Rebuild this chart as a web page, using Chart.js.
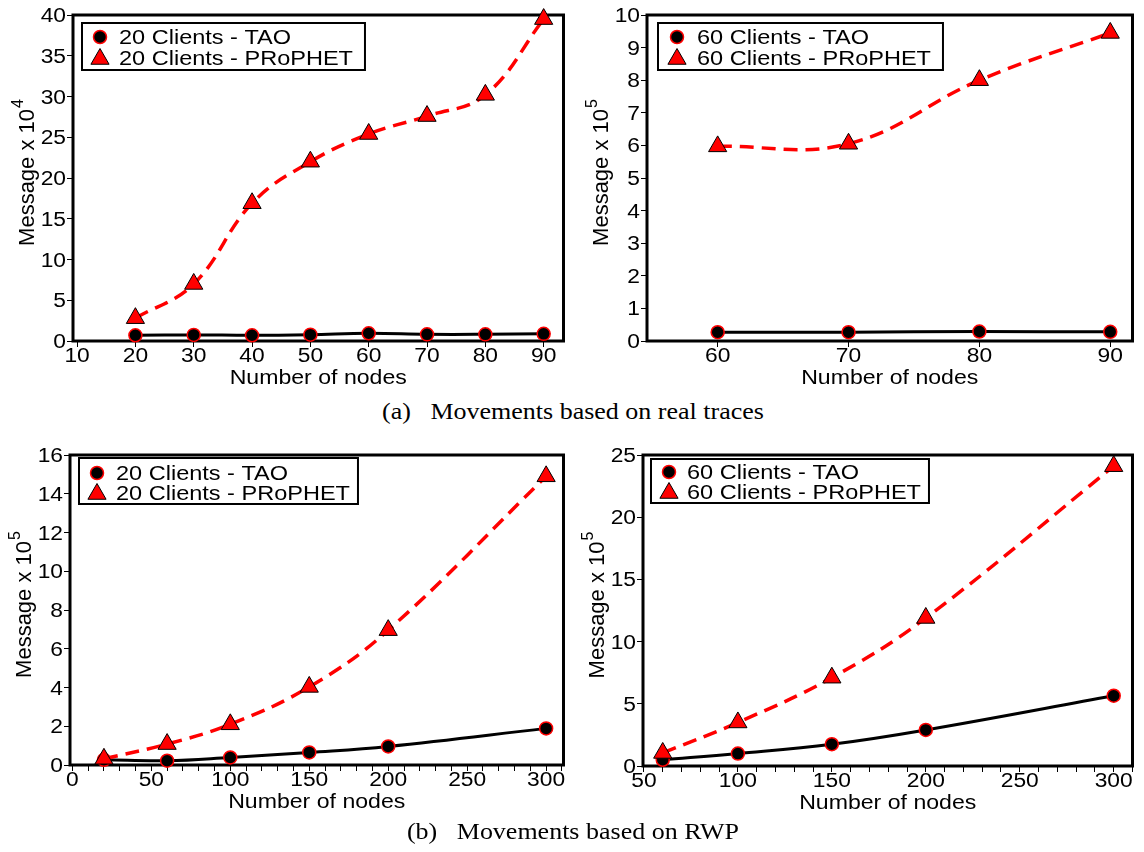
<!DOCTYPE html>
<html>
<head>
<meta charset="utf-8">
<script src="https://cdn.jsdelivr.net/npm/chart.js@4.4.1/dist/chart.umd.min.js"></script>
<style>
  body { margin: 0; background: #fff; width: 1144px; height: 852px; position: relative; overflow: hidden; }
  .panel { position: absolute; }
  .cap { position: absolute; left: 573px; font-family: "Liberation Serif", "Times New Roman", serif; font-size: 23px; white-space: pre; color: #000; transform: translateX(-50%) scaleX(1.13); }
</style>
</head>
<body>
<div class="panel" style="left:0;top:0;width:575px;height:392px"><canvas id="realA"></canvas></div>
<div class="panel" style="left:575px;top:0;width:569px;height:392px"><canvas id="realB"></canvas></div>
<div class="cap" style="top:399px">(a)   Movements based on real traces</div>
<div class="panel" style="left:0;top:440px;width:575px;height:380px"><canvas id="rwpA"></canvas></div>
<div class="panel" style="left:575px;top:440px;width:569px;height:380px"><canvas id="rwpB"></canvas></div>
<div class="cap" style="top:819px">(b)   Movements based on RWP</div>

<script>
// (a) real traces, 20 clients  (x 10^4)
const nodesA1 = [20, 30, 40, 50, 60, 70, 80, 90];
const taoA1 = [0.7, 0.75, 0.7, 0.78, 0.95, 0.82, 0.82, 0.88];
const prophetA1 = [2.8, 7, 16.9, 22, 25.4, 27.6, 30.2, 39.5];
const xTicksA1 = [10, 20, 30, 40, 50, 60, 70, 80, 90];
const yTicksA1 = [0, 5, 10, 15, 20, 25, 30, 35, 40];

// (a) real traces, 60 clients  (x 10^5)
const nodesA2 = [60, 70, 80, 90];
const taoA2 = [0.27, 0.27, 0.29, 0.28];
const prophetA2 = [5.97, 6.05, 8.0, 9.45];
const xTicksA2 = [60, 70, 80, 90];
const yTicksA2 = [0, 1, 2, 3, 4, 5, 6, 7, 8, 9, 10];

// (b) RWP, 20 clients  (x 10^5)
const nodesB1 = [20, 60, 100, 150, 200, 300];
const taoB1 = [0.27, 0.22, 0.39, 0.65, 0.96, 1.89];
const prophetB1 = [0.32, 1.08, 2.1, 4.03, 6.96, 14.9];
const xTicksB1 = [0, 50, 100, 150, 200, 250, 300];
const yTicksB1 = [0, 2, 4, 6, 8, 10, 12, 14, 16];

// (b) RWP, 60 clients  (x 10^5)
const nodesB2 = [60, 100, 150, 200, 300];
const taoB2 = [0.5, 1.0, 1.75, 2.9, 5.65];
const prophetB2 = [1.05, 3.5, 7.1, 11.9, 24.1];
const xTicksB2 = [50, 100, 150, 200, 250, 300];
const yTicksB2 = [0, 5, 10, 15, 20, 25];

const RED = "#ff0000";
const SANS = '"Liberation Sans", Arial, sans-serif';
const WIDE = 1.14; // the source figure's lettering is a bit stretched sideways

Chart.defaults.font.family = SANS;
Chart.defaults.color = "#000";
Chart.defaults.animation = false;

function pts(xs, ys) {
  return xs.map((x, i) => ({ x, y: ys[i] }));
}

// minor ticks every 10 for the RWP plots
function withMinor(from, to) {
  const out = [];
  for (let v = from; v <= to; v += 10) out.push(v);
  return out;
}

function wideText(ctx, txt, x, y, align, sx) {
  ctx.save();
  ctx.translate(x, y);
  ctx.scale(sx, 1);
  ctx.textAlign = align;
  ctx.fillText(txt, 0, 0);
  ctx.restore();
}

function marker(ctx, kind, x, y) {
  ctx.beginPath();
  if (kind === "circle") {
    ctx.arc(x, y, 6.5, 0, Math.PI * 2);
    ctx.fillStyle = "#000";
    ctx.fill();
    ctx.lineWidth = 1.5;
    ctx.strokeStyle = RED;
    ctx.stroke();
  } else {
    const r = 10.5;
    for (let i = 0; i < 3; i++) {
      const a = i * 2 * Math.PI / 3;
      const px = x + Math.sin(a) * r, py = y - Math.cos(a) * r;
      i ? ctx.lineTo(px, py) : ctx.moveTo(px, py);
    }
    ctx.closePath();
    ctx.fillStyle = RED;
    ctx.fill();
    ctx.lineWidth = 1;
    ctx.strokeStyle = "#000";
    ctx.stroke();
  }
}

const decor = {
  id: "decor",
  beforeDatasetsDraw(chart) {
    const { ctx, chartArea: a } = chart;
    ctx.save();
    ctx.strokeStyle = "#000";
    ctx.lineWidth = 3;
    ctx.strokeRect(a.left, a.top, a.right - a.left, a.bottom - a.top);
    ctx.restore();
  },
  afterDatasetsDraw(chart, args, o) {
    const { ctx, chartArea: a, scales } = chart;
    ctx.save();
    ctx.fillStyle = "#000";
    ctx.textBaseline = "alphabetic";

    // tick labels
    ctx.font = "20px " + SANS;
    o.xTicks.forEach(v => wideText(ctx, String(v), scales.x.getPixelForValue(v), a.bottom + 21, "center", WIDE));
    o.yTicks.forEach(v => wideText(ctx, String(v), a.left - 7, scales.y.getPixelForValue(v) + 7, "right", WIDE));

    // x title
    ctx.font = "21px " + SANS;
    wideText(ctx, "Number of nodes", (a.left + a.right) / 2, a.bottom + 43, "center", 1.1);

    // y title with superscript
    ctx.save();
    ctx.translate(a.left - 45, (a.top + a.bottom) / 2 - 5);
    ctx.rotate(-Math.PI / 2);
    ctx.textBaseline = "middle";
    ctx.font = "22px " + SANS;
    const w1 = ctx.measureText("Message x 10").width;
    ctx.font = "16px " + SANS;
    const w2 = ctx.measureText(o.exp).width;
    ctx.textAlign = "left";
    ctx.font = "22px " + SANS;
    ctx.fillText("Message x 10", -(w1 + w2) / 2, 0);
    ctx.font = "16px " + SANS;
    ctx.fillText(o.exp, -(w1 + w2) / 2 + w1 + 1, -9);
    ctx.restore();

    // legend
    const L = o.legend;
    ctx.font = L.size + "px " + SANS;
    const tw = Math.max(...o.names.map(n => ctx.measureText(n).width)) * L.sx;
    const bx = a.left + L.dx, by = a.top + L.dy;
    const bw = L.tx + tw + L.pad;
    ctx.fillStyle = "#fff";
    ctx.fillRect(bx, by, bw, L.h);
    ctx.lineWidth = 2;
    ctx.strokeStyle = "#000";
    ctx.strokeRect(bx, by, bw, L.h);
    marker(ctx, "circle", bx + L.mx, by + L.r1);
    marker(ctx, "triangle", bx + L.mx, by + L.r2 + 1);
    ctx.fillStyle = "#000";
    ctx.textBaseline = "middle";
    wideText(ctx, o.names[0], bx + L.tx, by + L.r1 + 1, "left", L.sx);
    wideText(ctx, o.names[1], bx + L.tx, by + L.r2 + 1, "left", L.sx);
    ctx.restore();
  }
};

function makeChart(id, o) {
  new Chart(document.getElementById(id), {
    type: "line",
    data: {
      datasets: [
        {
          label: o.names[0],
          data: pts(o.nodes, o.tao),
          borderColor: "#000",
          borderWidth: 3,
          tension: 0.4,
          pointStyle: "circle",
          pointRadius: 6.5,
          pointBackgroundColor: "#000",
          pointBorderColor: RED,
          pointBorderWidth: 1.5,
          order: 1,
          clip: false
        },
        {
          label: o.names[1],
          data: pts(o.nodes, o.prophet),
          borderColor: RED,
          borderWidth: 3.5,
          borderDash: [14, 8],
          tension: 0.4,
          pointStyle: "triangle",
          pointRadius: 10.5,
          pointBackgroundColor: RED,
          pointBorderColor: "#000",
          pointBorderWidth: 1,
          order: 0,
          clip: false
        }
      ]
    },
    options: {
      responsive: true,
      maintainAspectRatio: false,
      layout: { padding: { left: 0, top: 15, right: o.right, bottom: 0 } },
      plugins: {
        legend: { display: false },
        tooltip: { enabled: false },
        decor: { names: o.names, exp: o.exp, legend: o.legend, xTicks: o.xTicks, yTicks: o.yTicks }
      },
      scales: {
        x: {
          type: "linear",
          min: o.xMin,
          max: o.xMax,
          afterBuildTicks: s => { s.ticks = o.xAll.map(v => ({ value: v })); },
          afterFit: s => { s.height = o.xH; },
          grid: { drawOnChartArea: false, tickLength: 6, color: "#000" },
          border: { display: false },
          ticks: { display: false, autoSkip: false, maxRotation: 0 }
        },
        y: {
          min: o.yTicks[0],
          max: o.yTicks[o.yTicks.length - 1],
          afterBuildTicks: s => { s.ticks = o.yTicks.map(v => ({ value: v })); },
          afterFit: s => { s.width = o.yW; },
          grid: { drawOnChartArea: false, tickLength: 6, color: "#000" },
          border: { display: false },
          ticks: { display: false }
        }
      }
    },
    plugins: [decor]
  });
}

makeChart("realA", {
  nodes: nodesA1, tao: taoA1, prophet: prophetA1,
  names: ["20 Clients - TAO", "20 Clients - PRoPHET"], exp: "4",
  xMin: 9.3, xMax: 93.4, xTicks: xTicksA1, xAll: xTicksA1, yTicks: yTicksA1,
  yW: 73, xH: 51, right: 6,
  legend: { dx: 9, dy: 8, h: 47, mx: 18, tx: 37, r1: 14, r2: 35, size: 21, sx: 1.12, pad: 12 }
});

makeChart("realB", {
  nodes: nodesA2, tao: taoA2, prophet: prophetA2,
  names: ["60 Clients - TAO", "60 Clients - PRoPHET"], exp: "5",
  xMin: 54.6, xMax: 91.7, xTicks: xTicksA2, xAll: xTicksA2, yTicks: yTicksA2,
  yW: 72, xH: 51, right: 5,
  legend: { dx: 11, dy: 8, h: 47, mx: 19, tx: 39, r1: 14, r2: 35, size: 21, sx: 1.12, pad: 12 }
});

makeChart("rwpA", {
  nodes: nodesB1, tao: taoB1, prophet: prophetB1,
  names: ["20 Clients - TAO", "20 Clients - PRoPHET"], exp: "5",
  xMin: -1.5, xMax: 311, xTicks: xTicksB1, xAll: withMinor(0, 310), yTicks: yTicksB1,
  yW: 70, xH: 55, right: 5,
  legend: { dx: 9, dy: 3, h: 46, mx: 18, tx: 37, r1: 15, r2: 35, size: 21, sx: 1.12, pad: 8 }
});

makeChart("rwpB", {
  nodes: nodesB2, tao: taoB2, prophet: prophetB2,
  names: ["60 Clients - TAO", "60 Clients - PRoPHET"], exp: "5",
  xMin: 49.5, xMax: 310, xTicks: xTicksB2, xAll: withMinor(50, 310), yTicks: yTicksB2,
  yW: 68, xH: 54, right: 3,
  legend: { dx: 8, dy: 4, h: 44, mx: 18, tx: 36, r1: 13, r2: 33, size: 21, sx: 1.12, pad: 8 }
});
</script>
</body>
</html>
